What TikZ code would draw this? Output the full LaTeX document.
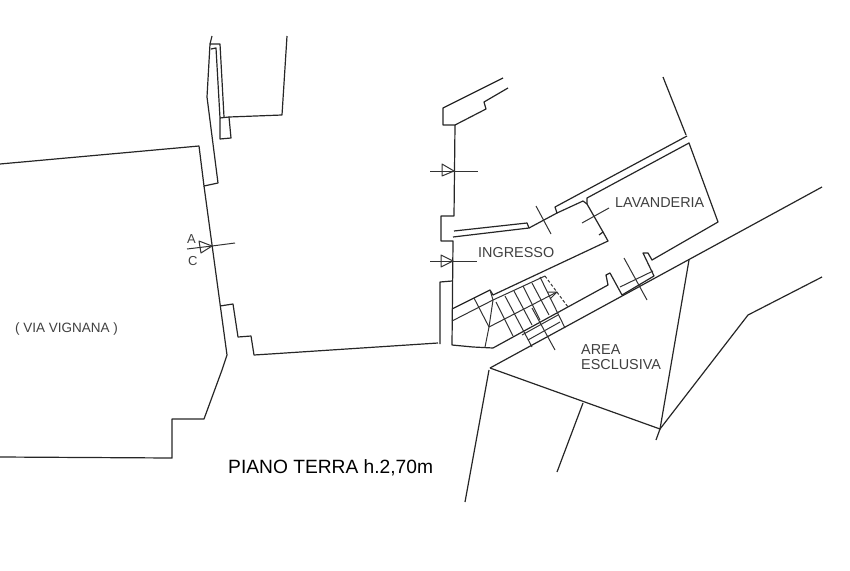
\documentclass[tikz,border=0pt]{standalone}
\usepackage{fontspec}
\setmainfont{Liberation Sans}
\begin{document}
\begin{tikzpicture}[x=1pt,y=-1pt,line join=round,
                    wall/.style={draw=black!85,line width=1.2pt},
                    thin wall/.style={draw=black!80,line width=1pt},
                    lbl/.style={inner sep=0pt,anchor=west,text=black!75,font=\fontsize{14.4}{15}\selectfont}]
    \useasboundingbox (0,0) rectangle (850,570);
    % via vignana
    \draw[wall] (0,164) -- (199,146) -- (204,186) -- (218,183) -- (207,97) -- (210,44) -- (220,44) -- (224,117);
    \draw[wall] (212,36) -- (210,44);
    \draw[wall] (211,49) -- (216,48) -- (220,118) -- (220,139) -- (231,138) -- (229,117) -- (220,118);
    \draw[wall] (229,117) -- (282,115) -- (287,36);
    \draw[wall] (204,186) -- (227,355) -- (222,370) -- (204,419) -- (172,419) -- (172,458) -- (0,457);
    \draw[wall] (220,306) -- (233,304) -- (238,337) -- (251,336) -- (254,355) -- (270,354) -- (438,343);
    % ingresso
    \draw[wall] (503,78) -- (443,108) -- (443,125) -- (455,125) -- (486,109) -- (484,102) -- (508,88);
    \draw[wall] (455,125) -- (454,216) -- (441,216) -- (441,241) -- (453,241) -- (452,345) -- (473,347) -- (493,348);
    \draw[wall] (454,231) -- (527,223) -- (529,228) -- (453,237);
    \draw[wall] (529,228) -- (557,213) -- (555,207) -- (687,136);
    \draw[wall] (663,77) -- (686,135);
    \draw[wall] (557,213) -- (583,201) -- (587,204) -- (603,232) -- (599,235);
    \draw[wall] (603,232) -- (608,241) -- (493,295) -- (490,290) -- (474,298) -- (452,309);
    \draw[wall] (587,204) -- (587,198) -- (689,143) -- (718,222) -- (652,260) -- (648,253) -- (643,253) -- (654,276) -- (622,295) -- (610,273) -- (606,275) -- (608,285) -- (493,348);
    \draw[wall] (440,344) -- (440,282) -- (452,281);
    % stairs
    \draw[thin wall] (452,321) -- (493,300) -- (545,276);
    \draw[thin wall] (490,290) -- (493,300) -- (489,327) -- (485,347);
    \draw[thin wall] (474,298) -- (489,327) -- (557,292);
    \draw[thin wall] (548,292) -- (557,292) -- (550,299);
    \draw[thin wall] (496,302) -- (513,336);
    \draw[thin wall] (505,296) -- (532,347);
    \draw[thin wall] (514,291) -- (532,325);
    \draw[thin wall] (523,286) -- (540,320);
    \draw[thin wall] (532,283) -- (549,315);
    \draw[thin wall] (540,277) -- (565,328);
    \draw[thin wall] (522,335) -- (558,315);
    \draw[thin wall] (528,340) -- (560,322);
    \draw[thin wall,densely dashed] (545,276) -- (568,307);
    \draw[thin wall] (620,287) -- (653,271);
    % ticks
    \draw[thin wall] (536,206) -- (551,234);
    \draw[thin wall] (582,223) -- (609,208);
    \draw[thin wall] (624,258) -- (647,300);
    \draw[thin wall] (532,308) -- (555,350);
    % doors
    \draw[thin wall] (430,171) -- (478,171);
    \draw[thin wall] (442,164) -- (442,176) -- (454,171) -- cycle;
    \draw[thin wall] (430,261) -- (477,261);
    \draw[thin wall] (441,255) -- (441,267) -- (453,261) -- cycle;
    \draw[thin wall] (187,249) -- (212,246) -- (235,243);
    \draw[thin wall] (199,241) -- (201,253) -- (212,246) -- cycle;
    % area esclusiva
    \draw[wall] (490,368) -- (822,187);
    \draw[wall] (490,368) -- (660,429) -- (689,260);
    \draw[wall] (660,429) -- (656,440);
    \draw[wall] (660,429) -- (748,315) -- (822,277);
    \draw[wall] (583,403) -- (557,472);
    \draw[wall] (489,370) -- (465,502);
    % labels
    \node[lbl] (lavanderia) at (615,203) {LAVANDERIA};
    \node[lbl] (ingresso) at (478,253) {INGRESSO};
    \node[lbl] (area) at (581,350) {AREA};
    \node[lbl] (esclusiva) at (581,365) {ESCLUSIVA};
    \node[lbl,font=\fontsize{13.5}{15}\selectfont] (via) at (15,329) {( VIA VIGNANA )};
    \node[lbl,font=\fontsize{13}{15}\selectfont] (sezA) at (187,239) {A};
    \node[lbl,font=\fontsize{13}{15}\selectfont] (sezC) at (188,261) {C};
    \node[lbl,text=black,font=\fontsize{19.2}{20}\selectfont] (piano) at (228,468) {PIANO TERRA h.2,70m};
\end{tikzpicture}
\end{document}
